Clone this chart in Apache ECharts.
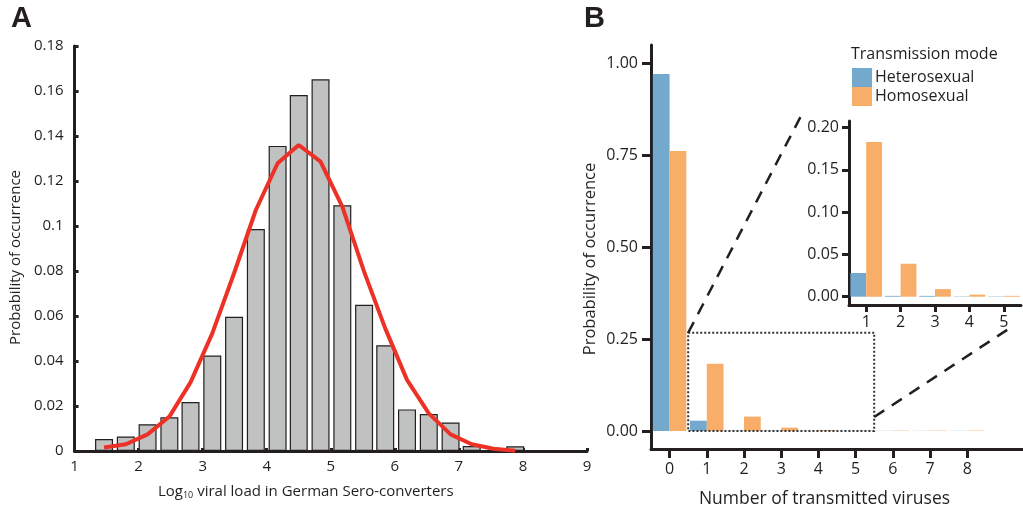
<!DOCTYPE html>
<html><head><meta charset="utf-8">
<script src="https://cdn.jsdelivr.net/npm/echarts@6/dist/echarts.min.js"></script>
<style>html,body{margin:0;padding:0;background:#fff}#c{width:1023px;height:513px}</style>
</head><body><div id="c"></div>
<script>
// Panel A: histogram of log10 viral load
const binCenters = [1.46,1.80,2.14,2.48,2.81,3.15,3.49,3.83,4.17,4.50,4.84,5.18,5.52,5.85,6.19,6.53,6.87,7.20,7.54,7.88];
const binProb    = [0.0053,0.0064,0.0119,0.0150,0.0218,0.0424,0.0597,0.0987,0.1356,0.1582,0.1652,0.1092,0.0650,0.0470,0.0185,0.0164,0.0127,0.0022,0,0.0021];
const fitProb    = [0.0016,0.0030,0.0074,0.0153,0.0305,0.0523,0.0790,0.1071,0.1279,0.1360,0.1286,0.1086,0.0797,0.0545,0.0316,0.0167,0.0074,0.0030,0.0010,0.0001];

// Panel B: number of transmitted viruses
const nViruses   = ['0','1','2','3','4','5','6','7','8',''];
const heteroProb = [0.970,0.028,0.001,0.001,0.0004,0.0004,0.0004,0.0004,0.0004];
const homoProb   = [0.761,0.183,0.039,0.009,0.0025,0.001,0.001,0.001,0.001];
const bYTicks = [0,0.25,0.5,0.75,1.0];
const insetCats = ['1','2','3','4','5'];
const insetYTicks = [0,0.05,0.10,0.15,0.20];
const zoomBoxTop = 0.267;

const FONT = 'Open Sans';
const INK = '#231f20';
const BLUE = '#72a9cd', ORANGE = '#f8ad68';

const chart = echarts.init(document.getElementById('c'), null, {renderer:'canvas'});

const axLine = {show:true, lineStyle:{color:INK, width:3}};
const option = {
  animation:false,
  textStyle:{fontFamily:FONT, color:INK},
  grid:[
    {left:72, top:46, width:515, height:405},
    {left:651, top:45, width:380, height:404},
    {left:849, top:121, width:172, height:184}
  ],
  title:[
    {text:'A', left:11, top:4, padding:0, textStyle:{fontFamily:'Liberation Sans', fontWeight:'bold', fontSize:29, color:INK}},
    {text:'B', left:584, top:4, padding:0, textStyle:{fontFamily:'Liberation Sans', fontWeight:'bold', fontSize:29, color:INK}}
  ],
  legend:{
    left:852, top:68, padding:0, orient:'vertical', itemGap:0, itemWidth:20, itemHeight:19,
    icon:'rect', data:['Heterosexual','Homosexual'],
    textStyle:{fontFamily:FONT, fontSize:16, color:INK, padding:[0,0,0,-2]}
  },
  xAxis:[
    {gridIndex:0, type:'value', min:1, max:9, interval:1,
     name:'{a|Log}{s|10}{a| viral load in German Sero-converters}',
     nameLocation:'middle', nameGap:33,
     nameTextStyle:{padding:[0,50,0,0], rich:{a:{fontFamily:FONT, fontSize:15, color:INK}, s:{fontFamily:FONT, fontSize:9, color:INK, verticalAlign:'bottom', padding:[7,0,0,0]}}},
     axisLine:axLine, axisTick:{show:true, inside:true, length:3, lineStyle:{color:INK,width:3}},
     axisLabel:{fontSize:15, color:INK, margin:8, fontFamily:FONT}, splitLine:{show:false}},
    {gridIndex:1, type:'category', data:nViruses, boundaryGap:true,
     name:'Number of transmitted viruses', nameLocation:'middle', nameGap:41,
     nameTextStyle:{fontSize:17.5, color:INK, fontFamily:FONT, padding:[0,25,0,0]},
     axisLine:{show:true, onZero:false, lineStyle:{color:INK, width:3}},
     axisTick:{show:true, alignWithLabel:true, length:9, lineStyle:{color:INK, width:3},
               interval:function(i){return i<9;}},
     axisLabel:{fontSize:16, color:INK, margin:12, fontFamily:FONT}},
    {gridIndex:2, type:'category', data:insetCats, boundaryGap:true,
     axisLine:{show:true, onZero:false, lineStyle:{color:INK, width:3}},
     axisTick:{show:true, alignWithLabel:true, length:7, lineStyle:{color:INK, width:3}},
     axisLabel:{fontSize:16, color:INK, margin:9, fontFamily:FONT}}
  ],
  yAxis:[
    {gridIndex:0, type:'value', min:0, max:0.18, interval:0.02,
     name:'Probability of occurrence', nameLocation:'middle', nameGap:47,
     nameTextStyle:{fontSize:15, color:INK, fontFamily:FONT, padding:[0,18,0,0]},
     axisLine:axLine, axisTick:{show:true, inside:true, length:4, lineStyle:{color:INK,width:3}},
     axisLabel:{fontSize:15, color:INK, margin:11, fontFamily:FONT}, splitLine:{show:false}},
    {gridIndex:1, type:'value', min:-0.049, max:1.049,
     name:'Probability of occurrence', nameLocation:'middle', nameGap:52,
     nameTextStyle:{fontSize:16.5, color:INK, fontFamily:FONT, padding:[0,24,0,0]},
     axisLine:{show:true, onZero:false, lineStyle:{color:INK, width:3}},
     axisTick:{show:true, length:9, lineStyle:{color:INK, width:3}, customValues:bYTicks},
     axisLabel:{fontSize:16, color:INK, margin:13, fontFamily:FONT, customValues:bYTicks,
                formatter:v=>v.toFixed(2)},
     splitLine:{show:false}},
    {gridIndex:2, type:'value', min:-0.0098, max:0.2077,
     axisLine:{show:true, onZero:false, lineStyle:{color:INK, width:3}},
     axisTick:{show:true, length:7, lineStyle:{color:INK, width:3}, customValues:insetYTicks},
     axisLabel:{fontSize:16, color:INK, margin:10, fontFamily:FONT, customValues:insetYTicks,
                formatter:v=>v.toFixed(2)},
     splitLine:{show:false}}
  ],
  series:[
    {type:'bar', xAxisIndex:0, yAxisIndex:0, barWidth:18,
     data:binCenters.map((x,i)=>[x,binProb[i]]),
     itemStyle:{color:'#c0c1c1', borderColor:INK, borderWidth:1.2}},
    {type:'line', xAxisIndex:0, yAxisIndex:0, showSymbol:false, symbol:'none',
     data:binCenters.map((x,i)=>[x,fitProb[i]]),
     lineStyle:{color:'#ec3127', width:4}, z:5},
    {name:'Heterosexual', type:'bar', xAxisIndex:1, yAxisIndex:1, data:heteroProb,
     barGap:'0%', barCategoryGap:'10%', itemStyle:{color:BLUE}},
    {name:'Homosexual', type:'bar', xAxisIndex:1, yAxisIndex:1, data:homoProb,
     barGap:'0%', barCategoryGap:'10%', itemStyle:{color:ORANGE}},
    {name:'Heterosexual', type:'bar', xAxisIndex:2, yAxisIndex:2, data:heteroProb.slice(1,6),
     barGap:'0%', barCategoryGap:'8%', itemStyle:{color:BLUE}},
    {name:'Homosexual', type:'bar', xAxisIndex:2, yAxisIndex:2, data:homoProb.slice(1,6),
     barGap:'0%', barCategoryGap:'8%', itemStyle:{color:ORANGE}}
  ]
};
chart.setOption(option);

// annotation: dotted zoom box on panel B and dashed connector lines to the inset
const pB = (c,v)=>chart.convertToPixel({xAxisIndex:1, yAxisIndex:1}, [c,v]);
const c0 = pB(0,0), c1 = pB(1,0), c5 = pB(5,0), c6 = pB(6,0);
const boxL = (c0[0]+c1[0])/2, boxR = (c5[0]+c6[0])/2;
const boxB = c0[1], boxT = pB(0,zoomBoxTop)[1];
const insetRect = chart.getModel().getComponent('grid',2).coordinateSystem.getRect();
const dashStyle = {stroke:INK, lineWidth:2.5, lineDash:[12,9]};
chart.setOption({graphic:[
  {type:'rect', shape:{x:boxL, y:boxT, width:boxR-boxL, height:boxB-boxT},
   style:{fill:'none', stroke:'#333', lineWidth:2, lineDash:[2,2]}, z:10},
  {type:'line', shape:{x1:boxL, y1:boxT, x2:insetRect.x-48, y2:insetRect.y-5}, style:dashStyle, z:10},
  {type:'line', shape:{x1:boxR, y1:boxB-14, x2:insetRect.x+161, y2:insetRect.y+insetRect.height+23}, style:dashStyle, z:10},
  {type:'text', left:851, top:46, style:{text:'Transmission mode', fontFamily:FONT, fontSize:16, fill:INK}}
]});
</script></body></html>
